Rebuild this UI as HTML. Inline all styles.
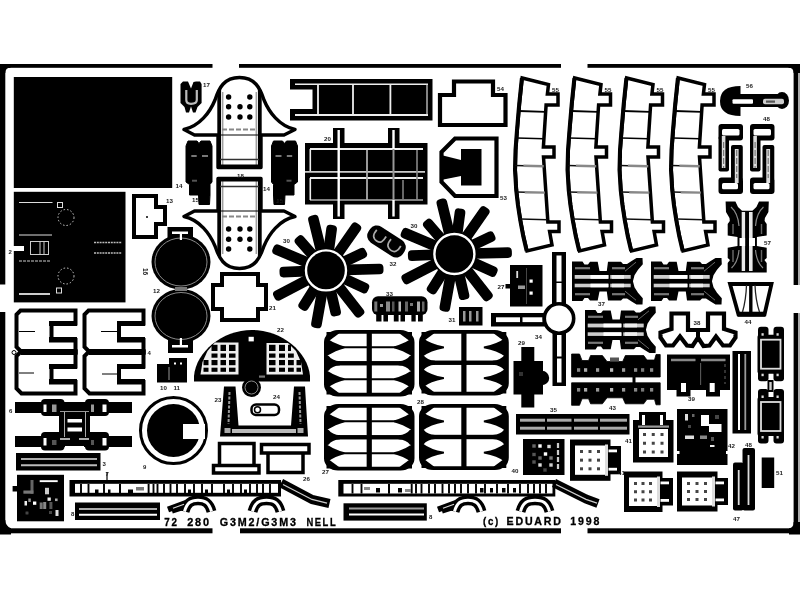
<!DOCTYPE html>
<html><head><meta charset="utf-8"><title>72 280 G3M2/G3M3 NELL</title>
<style>
html,body{margin:0;padding:0;background:#fff;}
body{width:800px;height:600px;overflow:hidden;}
svg{display:block;font-family:"Liberation Sans",sans-serif;}
</style></head><body>
<svg width="800" height="600" viewBox="0 0 800 600">
<defs><filter id="soft" filterUnits="userSpaceOnUse" x="-20" y="-20" width="840" height="640"><feGaussianBlur stdDeviation="0.55"/></filter></defs>
<rect x="-20" y="-20" width="840" height="640" fill="#fff"/>
<g filter="url(#soft)">
<rect x="-20" y="-20" width="840" height="640" fill="#fff"/>
<g id="frame">
<rect x="-10" y="64" width="222.5" height="3.8" fill="#000" />
<rect x="239" y="64" width="322" height="3.8" fill="#000" />
<rect x="587.5" y="64" width="222.5" height="3.8" fill="#000" />
<rect x="-10" y="528.3" width="222.5" height="5" fill="#000" />
<rect x="240" y="528.3" width="321" height="5" fill="#000" />
<rect x="587.5" y="528.3" width="222.5" height="5" fill="#000" />
<rect x="-10" y="66" width="15.3" height="218.5" fill="#000" />
<rect x="-10" y="312" width="15.3" height="222" fill="#000" />
<rect x="793.6" y="66" width="4.5" height="219" fill="#000" />
<rect x="798" y="66" width="12" height="219" fill="#aaa" />
<rect x="793.6" y="313" width="4.5" height="220" fill="#000" />
<rect x="798" y="313" width="12" height="220" fill="#aaa" />
<path d="M-10,64 L10.5,64 L10.5,67.8 Q5.3,67.8 5.3,73 L-10,73 Z" fill="#000" stroke="none" stroke-width="0" />
<path d="M-10,520 L5.3,520 Q5.5,526 11,528.3 L11,534.5 L-10,534.5 Z" fill="#000" stroke="none" stroke-width="0" />
<path d="M810,64 L788.5,64 L788.5,67.8 Q793.6,67.8 793.6,73 L810,73 Z" fill="#000" stroke="none" stroke-width="0" />
<path d="M810,534.6 L789,534.6 L789,528.3 Q793.6,528 793.6,522 L810,522 Z" fill="#000" stroke="none" stroke-width="0" />
</g>
<rect x="13.8" y="77" width="158.4" height="111" fill="#000" />
<g id="rect2">
<rect x="13.8" y="191.8" width="111.7" height="110.6" fill="#000" />
<line x1="19" y1="202.5" x2="52.5" y2="202.5" stroke="#ddd" stroke-width="1" />
<rect x="57.5" y="202.5" width="5" height="5" fill="#000" stroke="#ddd" stroke-width="1" />
<circle cx="66" cy="217.5" r="8" fill="none" stroke="#ccc" stroke-width="1" stroke-dasharray="1.5 2"/>
<line x1="19" y1="235" x2="52" y2="235" stroke="#ddd" stroke-width="1" />
<rect x="30.5" y="241.5" width="18" height="13" fill="none" stroke="#ccc" stroke-width="1" />
<line x1="40" y1="242" x2="40" y2="254" stroke="#ccc" stroke-width="1" />
<line x1="44" y1="242" x2="44" y2="254" stroke="#ccc" stroke-width="1" />
<rect x="11" y="246" width="13" height="5" fill="#fff" />
<line x1="19" y1="261" x2="50" y2="261" stroke="#ccc" stroke-width="1.2" stroke-dasharray="3 1"/>
<circle cx="66" cy="276" r="8" fill="none" stroke="#ccc" stroke-width="1" stroke-dasharray="1.5 2"/>
<rect x="56.5" y="288" width="5" height="5" fill="#000" stroke="#ddd" stroke-width="1" />
<line x1="19" y1="294" x2="50" y2="294" stroke="#ccc" stroke-width="2" />
<line x1="94" y1="242.5" x2="122" y2="242.5" stroke="#bbb" stroke-width="1.6" stroke-dasharray="2 0.8"/>
<line x1="94" y1="253" x2="122" y2="253" stroke="#bbb" stroke-width="1.6" stroke-dasharray="2 0.8"/>
</g>
<g id="cshapes">
<path d="M20.5,310.5 L75.5,310.5 L75.5,323.5 L51.5,323.5 L51.5,340.0 L75.5,340.0 L75.5,352.0 L21.5,352.0 L16.5,347.0 L16.5,314.5 Z" fill="#fff" stroke="#000" stroke-width="4" stroke-linejoin="miter" />
<path d="M88.5,310.5 L143.5,310.5 L143.5,323.5 L119.0,323.5 L119.0,340.0 L143.5,340.0 L143.5,352.0 L89.5,352.0 L84.5,347.0 L84.5,314.5 Z" fill="#fff" stroke="#000" stroke-width="4" stroke-linejoin="miter" />
<path d="M20.5,352.0 L75.5,352.0 L75.5,366.5 L51.5,366.5 L51.5,382.0 L75.5,382.0 L75.5,393.5 L21.5,393.5 L16.5,388.5 L16.5,356.0 Z" fill="#fff" stroke="#000" stroke-width="4" stroke-linejoin="miter" />
<path d="M88.5,352.0 L143.5,352.0 L143.5,366.5 L119.0,366.5 L119.0,382.0 L143.5,382.0 L143.5,393.5 L89.5,393.5 L84.5,388.5 L84.5,356.0 Z" fill="#fff" stroke="#000" stroke-width="4" stroke-linejoin="miter" />
<rect x="49" y="321" width="28" height="5" fill="#000" />
<rect x="49" y="337" width="28" height="5.5" fill="#000" />
<rect x="117" y="321" width="28" height="5" fill="#000" />
<rect x="117" y="337" width="28" height="5.5" fill="#000" />
<rect x="49" y="364" width="28" height="5" fill="#000" />
<rect x="49" y="379" width="28" height="5.5" fill="#000" />
<rect x="117" y="364" width="28" height="5" fill="#000" />
<rect x="117" y="379" width="28" height="5.5" fill="#000" />
<line x1="19" y1="331.5" x2="35" y2="331.5" stroke="#000" stroke-width="1" />
<line x1="101" y1="331.5" x2="117" y2="331.5" stroke="#000" stroke-width="1" />
<line x1="19" y1="373" x2="34" y2="373" stroke="#000" stroke-width="1" />
<line x1="102" y1="374" x2="117" y2="374" stroke="#000" stroke-width="1" />
<circle cx="14" cy="352.5" r="2" fill="#fff" stroke="#000" stroke-width="1" />
</g>
<rect x="21" y="349" width="56.5" height="6" fill="#000" />
<rect x="89" y="349" width="56.5" height="6" fill="#000" />
<g id="lattice">
<rect x="15" y="402" width="117" height="11" fill="#000" />
<rect x="41" y="399" width="23.5" height="17" fill="#000" rx="4" />
<rect x="85" y="399" width="24" height="17" fill="#000" rx="4" />
<rect x="15" y="436" width="117" height="11" fill="#000" />
<rect x="41" y="432" width="23.5" height="18.5" fill="#000" rx="4" />
<rect x="85" y="432" width="24" height="18.5" fill="#000" rx="4" />
<rect x="59" y="410" width="31" height="28" fill="#000" />
<rect x="43.5" y="404.5" width="3" height="7.5" fill="#fff" />
<rect x="52" y="404.5" width="4.5" height="7.5" fill="#999" />
<rect x="91" y="404.5" width="3" height="7.5" fill="#999" />
<rect x="102.5" y="404.5" width="4" height="7.5" fill="#fff" />
<rect x="43.5" y="438" width="3" height="7.5" fill="#fff" />
<rect x="52" y="440" width="4.5" height="5" fill="#555" />
<rect x="91" y="440" width="3" height="5" fill="#555" />
<rect x="102.5" y="438" width="4" height="7.5" fill="#fff" />
<rect x="67.5" y="419" width="14.5" height="3.5" fill="#fff" />
<rect x="67.5" y="427.5" width="14.5" height="4" fill="#fff" />
<line x1="64.5" y1="412" x2="64.5" y2="437" stroke="#aaa" stroke-width="1" />
<line x1="85.5" y1="412" x2="85.5" y2="437" stroke="#aaa" stroke-width="1" />
<line x1="60" y1="411.5" x2="89" y2="411.5" stroke="#999" stroke-width="1" />
<rect x="60" y="438" width="10" height="2" fill="#aaa" />
<rect x="79" y="438" width="10" height="2" fill="#aaa" />
<rect x="65" y="446" width="19" height="5" fill="#fff" />
</g>
<rect x="16" y="453" width="84.5" height="17.5" fill="#000" />
<line x1="21" y1="459" x2="97" y2="459" stroke="#aaa" stroke-width="2" />
<line x1="21" y1="465.3" x2="97" y2="465.3" stroke="#bbb" stroke-width="2" />
<rect x="75" y="502.5" width="85" height="17.5" fill="#000" />
<line x1="79" y1="509" x2="157" y2="509" stroke="#aaa" stroke-width="2" />
<line x1="79" y1="514.8" x2="157" y2="514.8" stroke="#fff" stroke-width="2" />
<g id="bigcircle">
<circle cx="173.5" cy="430.5" r="33" fill="#fff" stroke="#000" stroke-width="3" />
<circle cx="173.5" cy="430.5" r="26.5" fill="#000" />
<rect x="183" y="424" width="22" height="15" fill="#fff" />
</g>
<rect x="157" y="364" width="30" height="18.5" fill="#000" />
<rect x="169" y="358" width="18" height="8" fill="#000" />
<rect x="174" y="362.5" width="2" height="2" fill="#fff" />
<rect x="180" y="362.5" width="2" height="2" fill="#fff" />
<line x1="169" y1="367" x2="169" y2="380" stroke="#666" stroke-width="1.5" />
<g id="panel22">
<path d="M194,381.5 L194,376 C196,352 222,330 252,330 C282,330 308,352 310,376 L310,381.5 Z" fill="#000" stroke="none" stroke-width="0" />
</g>
<circle cx="251.5" cy="387.5" r="9.5" fill="#000" />
<circle cx="251.5" cy="387.5" r="6.5" fill="none" stroke="#888" stroke-width="1" />
<path d="M224.0,386.5 L235.5,386.5 L238.5,425.5 L291.0,425.5 L294.0,386.5 L305.0,386.5 L308.0,436.5 L220.0,436.5 Z" fill="#000" stroke="none" stroke-width="0" stroke-linejoin="miter" />
<line x1="229.5" y1="392" x2="228.5" y2="424" stroke="#999" stroke-width="2" stroke-dasharray="3 1.5"/>
<line x1="299.5" y1="392" x2="300.5" y2="424" stroke="#999" stroke-width="2" stroke-dasharray="3 1.5"/>
<rect x="232" y="429" width="64" height="4" fill="#bbb" />
<rect x="224.5" y="428" width="6" height="5" fill="#aaa" />
<rect x="297.5" y="428" width="6" height="5" fill="#aaa" />
<rect x="251.5" y="404.5" width="27.5" height="10.5" fill="#fff" stroke="#000" stroke-width="2.5" rx="4.5" />
<circle cx="257.5" cy="409.7" r="3" fill="#fff" stroke="#000" stroke-width="1.5" />
<g id="p2526">
<path d="M219.5,443.5 H254 V465.5 H259 V473 H213.5 V465.5 H219.5 Z M219.5,465.5 H254" fill="#fff" stroke="#000" stroke-width="3.5" />
<path d="M261.5,444.5 H309 V453 H303 V472.5 H268 V453 H261.5 Z M268,453 H303" fill="#fff" stroke="#000" stroke-width="3.5" />
</g>
<g id="longstripL">
<rect x="69.5" y="480" width="211.5" height="16.5" fill="#000" />
<rect x="75.0" y="483.8" width="203.0" height="9.0" fill="#fff" />
<line x1="81" y1="484" x2="81" y2="493.5" stroke="#000" stroke-width="1.9" />
<line x1="88.5" y1="484" x2="88.5" y2="493.5" stroke="#000" stroke-width="1.9" />
<line x1="104" y1="484" x2="104" y2="493.5" stroke="#000" stroke-width="1.9" />
<line x1="120" y1="484" x2="120" y2="493.5" stroke="#000" stroke-width="1.9" />
<line x1="148.6" y1="484" x2="148.6" y2="493.5" stroke="#000" stroke-width="1.9" />
<line x1="153.5" y1="484" x2="153.5" y2="493.5" stroke="#000" stroke-width="1.9" />
<line x1="157.5" y1="484" x2="157.5" y2="493.5" stroke="#000" stroke-width="1.9" />
<line x1="164" y1="484" x2="164" y2="493.5" stroke="#000" stroke-width="1.9" />
<line x1="170.5" y1="484" x2="170.5" y2="493.5" stroke="#000" stroke-width="1.9" />
<line x1="177" y1="484" x2="177" y2="493.5" stroke="#000" stroke-width="1.9" />
<line x1="185" y1="484" x2="185" y2="493.5" stroke="#000" stroke-width="1.9" />
<line x1="194" y1="484" x2="194" y2="493.5" stroke="#000" stroke-width="1.9" />
<line x1="202" y1="484" x2="202" y2="493.5" stroke="#000" stroke-width="1.9" />
<line x1="212" y1="484" x2="212" y2="493.5" stroke="#000" stroke-width="1.9" />
<line x1="224" y1="484" x2="224" y2="493.5" stroke="#000" stroke-width="1.9" />
<line x1="233" y1="484" x2="233" y2="493.5" stroke="#000" stroke-width="1.9" />
<line x1="241" y1="484" x2="241" y2="493.5" stroke="#000" stroke-width="1.9" />
<line x1="250" y1="484" x2="250" y2="493.5" stroke="#000" stroke-width="1.9" />
<line x1="257" y1="484" x2="257" y2="493.5" stroke="#000" stroke-width="1.9" />
<line x1="263" y1="484" x2="263" y2="493.5" stroke="#000" stroke-width="1.9" />
<line x1="270" y1="484" x2="270" y2="493.5" stroke="#000" stroke-width="1.9" />
<line x1="120" y1="484" x2="120" y2="493.5" stroke="#000" stroke-width="1.8" />
<rect x="95" y="489.5" width="3.5" height="4" fill="#000" />
<rect x="108" y="489.5" width="2.5" height="4" fill="#000" />
<rect x="128" y="489.5" width="5" height="4" fill="#000" />
<rect x="188" y="489.5" width="3" height="4" fill="#000" />
<rect x="205" y="489.5" width="3" height="4" fill="#000" />
<rect x="227" y="489.5" width="3" height="4" fill="#000" />
<rect x="244" y="489.5" width="3" height="4" fill="#000" />
<rect x="136" y="487" width="8" height="3.5" fill="#777" />
<line x1="107" y1="472" x2="107" y2="480" stroke="#000" stroke-width="1.2" />
</g>
<path d="M168,509.5 L187,502.5" fill="none" stroke="#000" stroke-width="6" />
<path d="M172,511.0 L186,506.5" fill="none" stroke="#000" stroke-width="5" />
<path d="M184.5,511.5 C187,502.5 191,500.3 198.0,500.3 C205,500.3 209,502.5 211.5,511.5" fill="none" stroke="#000" stroke-width="10" />
<path d="M184.5,511.5 C187,502.5 191,500.3 198.0,500.3 C205,500.3 209,502.5 211.5,511.5" fill="none" stroke="#fff" stroke-width="3" />
<path d="M173,508.3 L184,504.2" fill="none" stroke="#ddd" stroke-width="1.2" />
<path d="M252.5,511.5 C255,502.5 259,500.3 266.5,500.3 C274,500.3 278,502.5 280.5,511.5" fill="none" stroke="#000" stroke-width="10" />
<path d="M252.5,511.5 C255,502.5 259,500.3 266.5,500.3 C274,500.3 278,502.5 280.5,511.5" fill="none" stroke="#fff" stroke-width="3" />
<path d="M281,483 L312,499.5 L329.5,503.5" fill="none" stroke="#000" stroke-width="9" stroke-linejoin="round"/>
<path d="M283,484.5 L312,499.5 L327,503.2" fill="none" stroke="#ccc" stroke-width="1.3" />
<text x="164.3" y="525.7" font-size="10.5" font-weight="bold" letter-spacing="1.8" textLength="14.3" lengthAdjust="spacingAndGlyphs" fill="#000" stroke="#000" stroke-width="0.3">72</text>
<text x="187.2" y="525.7" font-size="10.5" font-weight="bold" letter-spacing="1.8" textLength="23.8" lengthAdjust="spacingAndGlyphs" fill="#000" stroke="#000" stroke-width="0.3">280</text>
<text x="219.7" y="525.7" font-size="10.5" font-weight="bold" letter-spacing="1.8" textLength="78.1" lengthAdjust="spacingAndGlyphs" fill="#000" stroke="#000" stroke-width="0.3">G3M2/G3M3</text>
<text x="306.4" y="525.7" font-size="10.5" font-weight="bold" letter-spacing="1.8" textLength="30.900000000000002" lengthAdjust="spacingAndGlyphs" fill="#000" stroke="#000" stroke-width="0.3">NELL</text>
<text x="483" y="525.3" font-size="10.5" font-weight="bold" letter-spacing="1.8" textLength="16.8" lengthAdjust="spacingAndGlyphs" fill="#000" stroke="#000" stroke-width="0.3">(c)</text>
<text x="506.5" y="525.3" font-size="10.5" font-weight="bold" letter-spacing="1.8" textLength="56.3" lengthAdjust="spacingAndGlyphs" fill="#000" stroke="#000" stroke-width="0.3">EDUARD</text>
<text x="570.3" y="525.3" font-size="10.5" font-weight="bold" letter-spacing="1.8" textLength="30.8" lengthAdjust="spacingAndGlyphs" fill="#000" stroke="#000" stroke-width="0.3">1998</text>
<g >
<path d="M184,129.5 C200,126 210,112 215,100 C219,88 224,77.5 239.5,77.5 C255,77.5 260,88 264,100 C269,112 279,126 295,129.5 L284,135 L261,135 L261,167.5 L218,167.5 L218,135 L194.5,135 Z" fill="#fff" stroke="#000" stroke-width="3.4" stroke-linejoin="round"/>
<line x1="219.2" y1="90" x2="219.2" y2="167" stroke="#000" stroke-width="3.8" />
<line x1="259.8" y1="90" x2="259.8" y2="167" stroke="#000" stroke-width="3.8" />
<line x1="222.8" y1="92" x2="222.8" y2="166" stroke="#777" stroke-width="1" />
<line x1="256.2" y1="92" x2="256.2" y2="166" stroke="#777" stroke-width="1" />
<line x1="222" y1="129.5" x2="257" y2="129.5" stroke="#888" stroke-width="2.2" stroke-dasharray="5 2"/>
<line x1="218" y1="135" x2="261" y2="135" stroke="#000" stroke-width="1" />
<line x1="220" y1="159.5" x2="259" y2="159.5" stroke="#333" stroke-width="1.6" />
<line x1="218" y1="166.5" x2="261" y2="166.5" stroke="#000" stroke-width="4" />
<circle cx="228.6" cy="97" r="2.7" fill="#000" />
<circle cx="249.8" cy="97" r="2.7" fill="#000" />
<circle cx="228.6" cy="106.7" r="2.7" fill="#000" />
<circle cx="240" cy="106.7" r="2.7" fill="#000" />
<circle cx="249.8" cy="106.7" r="2.7" fill="#000" />
<circle cx="228.6" cy="117" r="2.7" fill="#000" />
<circle cx="240" cy="117" r="2.7" fill="#000" />
<circle cx="249.8" cy="117" r="2.7" fill="#000" />
</g>
<g transform="translate(0,346) scale(1,-1)">
<path d="M184,129.5 C200,126 210,112 215,100 C219,88 224,77.5 239.5,77.5 C255,77.5 260,88 264,100 C269,112 279,126 295,129.5 L284,135 L261,135 L261,167.5 L218,167.5 L218,135 L194.5,135 Z" fill="#fff" stroke="#000" stroke-width="3.4" stroke-linejoin="round"/>
<line x1="219.2" y1="90" x2="219.2" y2="167" stroke="#000" stroke-width="3.8" />
<line x1="259.8" y1="90" x2="259.8" y2="167" stroke="#000" stroke-width="3.8" />
<line x1="222.8" y1="92" x2="222.8" y2="166" stroke="#777" stroke-width="1" />
<line x1="256.2" y1="92" x2="256.2" y2="166" stroke="#777" stroke-width="1" />
<line x1="222" y1="129.5" x2="257" y2="129.5" stroke="#888" stroke-width="2.2" stroke-dasharray="5 2"/>
<line x1="218" y1="135" x2="261" y2="135" stroke="#000" stroke-width="1" />
<line x1="220" y1="159.5" x2="259" y2="159.5" stroke="#333" stroke-width="1.6" />
<line x1="218" y1="166.5" x2="261" y2="166.5" stroke="#000" stroke-width="4" />
<circle cx="228.6" cy="97" r="2.7" fill="#000" />
<circle cx="249.8" cy="97" r="2.7" fill="#000" />
<circle cx="228.6" cy="106.7" r="2.7" fill="#000" />
<circle cx="240" cy="106.7" r="2.7" fill="#000" />
<circle cx="249.8" cy="106.7" r="2.7" fill="#000" />
<circle cx="228.6" cy="117" r="2.7" fill="#000" />
<circle cx="240" cy="117" r="2.7" fill="#000" />
<circle cx="249.8" cy="117" r="2.7" fill="#000" />
</g>
<path d="M180.5,84.0 L183.0,81.5 L188.0,81.5 L191.0,88.5 L193.5,82.0 L196.0,81.5 L200.0,81.5 L201.6,84.0 L201.6,103.0 L197.5,107.0 L195.5,112.6 L193.0,112.6 L191.0,106.5 L189.0,112.6 L186.0,112.6 L184.5,107.0 L180.5,103.0 Z" fill="#000" stroke="none" stroke-width="0" stroke-linejoin="miter" />
<path d="M186.3,90 L186.3,100 Q186.3,103.8 191,103.8 Q196.8,103.8 196.8,100 L196.8,90" fill="none" stroke="#bbb" stroke-width="2.2" />
<path d="M186.0,146.0 L188.0,141.0 L197.0,141.0 L199.0,143.5 L201.0,141.0 L210.0,141.0 L212.0,146.0 L212.0,182.0 L210.0,184.5 L210.0,195.0 L209.5,204.5 L199.0,204.5 L198.5,195.0 L189.5,195.0 L189.5,184.5 L186.0,182.0 Z" fill="#000" stroke="#000" stroke-width="1" stroke-linejoin="miter" stroke-linejoin="round"/>
<path d="M297.5,146.0 L295.5,141.0 L286.5,141.0 L284.5,143.5 L282.5,141.0 L273.5,141.0 L271.5,146.0 L271.5,182.0 L273.5,184.5 L273.5,195.0 L274.0,204.5 L284.5,204.5 L285.0,195.0 L294.0,195.0 L294.0,184.5 L297.5,182.0 Z" fill="#000" stroke="#000" stroke-width="1" stroke-linejoin="miter" stroke-linejoin="round"/>
<line x1="191.3" y1="156" x2="196.7" y2="156" stroke="#777" stroke-width="2" />
<line x1="292.2" y1="156" x2="286.8" y2="156" stroke="#777" stroke-width="2" />
<line x1="202" y1="156" x2="208" y2="156" stroke="#777" stroke-width="2" />
<line x1="281.5" y1="156" x2="275.5" y2="156" stroke="#777" stroke-width="2" />
<line x1="192" y1="180.7" x2="197" y2="180.7" stroke="#555" stroke-width="2" />
<line x1="291.5" y1="180.7" x2="286.5" y2="180.7" stroke="#555" stroke-width="2" />
<path d="M134.0,196.0 L156.0,196.0 L156.0,207.0 L165.0,207.0 L165.0,224.0 L156.0,224.0 L156.0,237.0 L134.0,237.0 Z" fill="#fff" stroke="#000" stroke-width="4" stroke-linejoin="miter" />
<circle cx="147" cy="217" r="1" fill="#000" />
<g id="circles">
<rect x="167.5" y="227" width="25.5" height="12" fill="#000" />
<rect x="168" y="338" width="25" height="15" fill="#000" />
<ellipse cx="181" cy="262" rx="29.5" ry="27.5" fill="#000"/>
<ellipse cx="181" cy="316" rx="29.5" ry="27" fill="#000"/>
<ellipse cx="181" cy="262" rx="26" ry="24" fill="none" stroke="#999" stroke-width="0.9"/>
<ellipse cx="181" cy="316" rx="26" ry="23.5" fill="none" stroke="#999" stroke-width="0.9"/>
<rect x="172" y="231.5" width="16" height="2.5" fill="#fff" />
<rect x="179.8" y="233" width="2.2" height="7" fill="#fff" />
<rect x="172" y="345" width="16" height="2.5" fill="#fff" />
<rect x="179.8" y="338" width="2.2" height="8" fill="#fff" />
<rect x="175" y="287" width="12" height="4" fill="#777" />
</g>
<path d="M222.0,274.0 L258.0,274.0 L258.0,285.0 L266.0,285.0 L266.0,309.0 L258.0,309.0 L258.0,320.0 L222.0,320.0 L222.0,309.0 L213.0,309.0 L213.0,285.0 L222.0,285.0 Z" fill="#fff" stroke="#000" stroke-width="4" stroke-linejoin="miter" />
<g id="p19">
<rect x="290" y="79" width="142.5" height="41.5" fill="#000" />
<rect x="288" y="89.5" width="24.5" height="19.5" fill="#fff" />
<line x1="295" y1="84.3" x2="428" y2="84.3" stroke="#eee" stroke-width="1.6" />
<line x1="295" y1="115" x2="428" y2="115" stroke="#eee" stroke-width="1.8" />
<line x1="318" y1="84" x2="318" y2="115" stroke="#eee" stroke-width="1.8" />
<line x1="353" y1="84" x2="353" y2="115" stroke="#eee" stroke-width="1.8" />
<line x1="390.4" y1="84" x2="390.4" y2="115" stroke="#eee" stroke-width="1.8" />
<line x1="427" y1="84" x2="427" y2="115" stroke="#ddd" stroke-width="1.2" />
</g>
<g id="p20">
<rect x="305" y="143" width="122.5" height="61.5" fill="#000" />
<rect x="333" y="128" width="11.5" height="91" fill="#000" />
<rect x="388" y="128" width="11.5" height="91" fill="#000" />
<line x1="310" y1="149" x2="423" y2="149" stroke="#eee" stroke-width="2.2" />
<line x1="305" y1="171.8" x2="425" y2="171.8" stroke="#ccc" stroke-width="1.8" />
<line x1="310" y1="178" x2="423" y2="178" stroke="#eee" stroke-width="2.2" />
<line x1="310" y1="200" x2="423" y2="200" stroke="#aaa" stroke-width="1.6" />
<line x1="310.3" y1="149" x2="310.3" y2="171" stroke="#eee" stroke-width="1.6" />
<line x1="310.3" y1="178" x2="310.3" y2="200" stroke="#eee" stroke-width="1.6" />
<line x1="338.7" y1="130" x2="338.7" y2="216.5" stroke="#fff" stroke-width="2.4" />
<line x1="393.5" y1="130" x2="393.5" y2="149" stroke="#fff" stroke-width="2.4" />
<line x1="393.5" y1="149" x2="393.5" y2="200" stroke="#999" stroke-width="2" />
<line x1="393.5" y1="200" x2="393.5" y2="216.5" stroke="#fff" stroke-width="2.4" />
<line x1="367" y1="150" x2="367" y2="200" stroke="#aaa" stroke-width="1.8" />
<line x1="417" y1="150" x2="417" y2="200" stroke="#888" stroke-width="1.6" />
<line x1="403" y1="180" x2="403" y2="199" stroke="#888" stroke-width="1.5" />
</g>
<path d="M454.0,81.5 L493.0,81.5 L493.0,95.0 L505.5,95.0 L505.5,125.0 L440.0,125.0 L440.0,95.0 L454.0,95.0 Z" fill="#fff" stroke="#000" stroke-width="4.2" stroke-linejoin="miter" />
<path d="M455.0,138.5 L496.5,138.5 L496.5,196.0 L455.0,196.0 L441.5,182.0 L441.5,152.0 Z" fill="#fff" stroke="#000" stroke-width="4.2" stroke-linejoin="miter" />
<path d="M441.0,155.0 L461.0,160.0 L461.0,176.0 L441.0,180.0 Z" fill="#000" stroke="none" stroke-width="0" stroke-linejoin="miter" />
<rect x="461" y="149" width="20.5" height="36.5" fill="#000" />
<g transform="translate(0,0)">
<path d="M522.2,78.0 L548.5,84.5 L547.4,94.0 L558.0,94.0 L558.0,105.0 L546.1,105.0 L543.4,147.0 L554.0,147.0 L554.0,157.0 L543.5,157.0 L547.9,222.0 L559.0,222.0 L559.0,231.5 L549.6,231.5 L552.0,245.0 L527.0,251.0 L523.5,236.0 L520.5,220.0 L518.2,205.0 L516.5,190.0 L515.3,170.0 L515.8,150.0 L517.3,130.0 L519.5,104.0 L522.2,78.0 Z" fill="#fff" stroke="#000" stroke-width="3.5" stroke-linejoin="miter" />
<path d="M521.9000000000001,78 L519.2,104 L517.0,130 L515.5,150 L515.0,170 L516.2,190 L517.9000000000001,205 L520.2,220 L523.2,236 L526.7,251" fill="none" stroke="#000" stroke-width="4" />
<line x1="518.9" y1="111" x2="545.4" y2="111.8" stroke="#000" stroke-width="1.8" />
<line x1="516.7" y1="138" x2="543.7" y2="138.8" stroke="#000" stroke-width="1.5" />
<line x1="520.3" y1="219" x2="547.4" y2="219.8" stroke="#111" stroke-width="1.5" />
<line x1="515.4" y1="165.6" x2="524.4" y2="165.79999999999998" stroke="#111" stroke-width="1.5" />
<line x1="523.4" y1="165.79999999999998" x2="543.7" y2="166.2" stroke="#888" stroke-width="2.4" />
<line x1="516.7" y1="192" x2="525.7" y2="192.2" stroke="#111" stroke-width="1.5" />
<line x1="524.7" y1="192.2" x2="544.9" y2="192.6" stroke="#888" stroke-width="2.4" />
</g>
<g transform="translate(52.5,0)">
<path d="M522.2,78.0 L548.5,84.5 L547.4,94.0 L558.0,94.0 L558.0,105.0 L546.1,105.0 L543.4,147.0 L554.0,147.0 L554.0,157.0 L543.5,157.0 L547.9,222.0 L559.0,222.0 L559.0,231.5 L549.6,231.5 L552.0,245.0 L527.0,251.0 L523.5,236.0 L520.5,220.0 L518.2,205.0 L516.5,190.0 L515.3,170.0 L515.8,150.0 L517.3,130.0 L519.5,104.0 L522.2,78.0 Z" fill="#fff" stroke="#000" stroke-width="3.5" stroke-linejoin="miter" />
<path d="M521.9000000000001,78 L519.2,104 L517.0,130 L515.5,150 L515.0,170 L516.2,190 L517.9000000000001,205 L520.2,220 L523.2,236 L526.7,251" fill="none" stroke="#000" stroke-width="4" />
<line x1="518.9" y1="111" x2="545.4" y2="111.8" stroke="#000" stroke-width="1.8" />
<line x1="516.7" y1="138" x2="543.7" y2="138.8" stroke="#000" stroke-width="1.5" />
<line x1="520.3" y1="219" x2="547.4" y2="219.8" stroke="#111" stroke-width="1.5" />
<line x1="515.4" y1="165.6" x2="524.4" y2="165.79999999999998" stroke="#111" stroke-width="1.5" />
<line x1="523.4" y1="165.79999999999998" x2="543.7" y2="166.2" stroke="#888" stroke-width="2.4" />
<line x1="516.7" y1="192" x2="525.7" y2="192.2" stroke="#111" stroke-width="1.5" />
<line x1="524.7" y1="192.2" x2="544.9" y2="192.6" stroke="#888" stroke-width="2.4" />
</g>
<g transform="translate(104.5,0)">
<path d="M522.2,78.0 L548.5,84.5 L547.4,94.0 L558.0,94.0 L558.0,105.0 L546.1,105.0 L543.4,147.0 L554.0,147.0 L554.0,157.0 L543.5,157.0 L547.9,222.0 L559.0,222.0 L559.0,231.5 L549.6,231.5 L552.0,245.0 L527.0,251.0 L523.5,236.0 L520.5,220.0 L518.2,205.0 L516.5,190.0 L515.3,170.0 L515.8,150.0 L517.3,130.0 L519.5,104.0 L522.2,78.0 Z" fill="#fff" stroke="#000" stroke-width="3.5" stroke-linejoin="miter" />
<path d="M521.9000000000001,78 L519.2,104 L517.0,130 L515.5,150 L515.0,170 L516.2,190 L517.9000000000001,205 L520.2,220 L523.2,236 L526.7,251" fill="none" stroke="#000" stroke-width="4" />
<line x1="518.9" y1="111" x2="545.4" y2="111.8" stroke="#000" stroke-width="1.8" />
<line x1="516.7" y1="138" x2="543.7" y2="138.8" stroke="#000" stroke-width="1.5" />
<line x1="520.3" y1="219" x2="547.4" y2="219.8" stroke="#111" stroke-width="1.5" />
<line x1="515.4" y1="165.6" x2="524.4" y2="165.79999999999998" stroke="#111" stroke-width="1.5" />
<line x1="523.4" y1="165.79999999999998" x2="543.7" y2="166.2" stroke="#888" stroke-width="2.4" />
<line x1="516.7" y1="192" x2="525.7" y2="192.2" stroke="#111" stroke-width="1.5" />
<line x1="524.7" y1="192.2" x2="544.9" y2="192.6" stroke="#888" stroke-width="2.4" />
</g>
<g transform="translate(156,0)">
<path d="M522.2,78.0 L548.5,84.5 L547.4,94.0 L558.0,94.0 L558.0,105.0 L546.1,105.0 L543.4,147.0 L554.0,147.0 L554.0,157.0 L543.5,157.0 L547.9,222.0 L559.0,222.0 L559.0,231.5 L549.6,231.5 L552.0,245.0 L527.0,251.0 L523.5,236.0 L520.5,220.0 L518.2,205.0 L516.5,190.0 L515.3,170.0 L515.8,150.0 L517.3,130.0 L519.5,104.0 L522.2,78.0 Z" fill="#fff" stroke="#000" stroke-width="3.5" stroke-linejoin="miter" />
<path d="M521.9000000000001,78 L519.2,104 L517.0,130 L515.5,150 L515.0,170 L516.2,190 L517.9000000000001,205 L520.2,220 L523.2,236 L526.7,251" fill="none" stroke="#000" stroke-width="4" />
<line x1="518.9" y1="111" x2="545.4" y2="111.8" stroke="#000" stroke-width="1.8" />
<line x1="516.7" y1="138" x2="543.7" y2="138.8" stroke="#000" stroke-width="1.5" />
<line x1="520.3" y1="219" x2="547.4" y2="219.8" stroke="#111" stroke-width="1.5" />
<line x1="515.4" y1="165.6" x2="524.4" y2="165.79999999999998" stroke="#111" stroke-width="1.5" />
<line x1="523.4" y1="165.79999999999998" x2="543.7" y2="166.2" stroke="#888" stroke-width="2.4" />
<line x1="516.7" y1="192" x2="525.7" y2="192.2" stroke="#111" stroke-width="1.5" />
<line x1="524.7" y1="192.2" x2="544.9" y2="192.6" stroke="#888" stroke-width="2.4" />
</g>
<g id="p56">
<path d="M740.5,86 L740.5,116 Q720,116 720,101 Q720,86 740.5,86 Z" fill="#000" stroke="none" stroke-width="0" />
<rect x="738" y="94" width="44" height="13" fill="#000" />
<ellipse cx="782" cy="100.5" rx="7" ry="8.5" fill="#000"/>
<rect x="732.5" y="99.3" width="20.5" height="4.5" fill="#fff" rx="1" />
<rect x="763" y="98.8" width="21" height="5.4" fill="#ccc" rx="2" />
<rect x="766" y="100.5" width="9" height="2.2" fill="#555" />
</g>
<g transform="translate(0,0)">
<rect x="718.5" y="124" width="24.5" height="16.5" fill="#000" rx="3" />
<rect x="718.5" y="136" width="10.5" height="35.5" fill="#000" rx="2" />
<rect x="731" y="145" width="11.8" height="35.5" fill="#000" rx="2" />
<rect x="718.5" y="177.5" width="24.5" height="16.5" fill="#000" rx="3" />
<rect x="722" y="129" width="17.5" height="6.5" fill="#fff" rx="1.5" />
<rect x="722" y="183" width="16" height="6.2" fill="#fff" rx="1.5" />
<rect x="721.8" y="136" width="3.6" height="32" fill="#ddd" />
<rect x="734.8" y="149" width="3.8" height="34" fill="#ddd" />
<line x1="723.6" y1="142" x2="723.6" y2="168" stroke="#777" stroke-width="1.2" stroke-dasharray="6 2"/>
<line x1="736.7" y1="150" x2="736.7" y2="178" stroke="#777" stroke-width="1.2" stroke-dasharray="6 2"/>
</g>
<g transform="translate(31.5,0)">
<rect x="718.5" y="124" width="24.5" height="16.5" fill="#000" rx="3" />
<rect x="718.5" y="136" width="10.5" height="35.5" fill="#000" rx="2" />
<rect x="731" y="145" width="11.8" height="35.5" fill="#000" rx="2" />
<rect x="718.5" y="177.5" width="24.5" height="16.5" fill="#000" rx="3" />
<rect x="722" y="129" width="17.5" height="6.5" fill="#fff" rx="1.5" />
<rect x="722" y="183" width="16" height="6.2" fill="#fff" rx="1.5" />
<rect x="721.8" y="136" width="3.6" height="32" fill="#ddd" />
<rect x="734.8" y="149" width="3.8" height="34" fill="#ddd" />
<line x1="723.6" y1="142" x2="723.6" y2="168" stroke="#777" stroke-width="1.2" stroke-dasharray="6 2"/>
<line x1="736.7" y1="150" x2="736.7" y2="178" stroke="#777" stroke-width="1.2" stroke-dasharray="6 2"/>
</g>
<g id="p57">
<path d="M747.2,210.7 L742.0,210.7 L738.0,207.0 L735.4,201.6 L725.6,201.6 L726.0,212.0 L729.5,218.0 L729.8,221.0 L727.7,224.0 L727.7,235.5 L737.5,237.0 L737.5,246.0 L727.7,247.8 L727.7,258.0 L730.0,260.0 L727.7,263.0 L727.7,272.5 L747.2,272.5 L747.2,272.5 L766.7,272.5 L766.7,263.0 L764.4,260.0 L766.7,258.0 L766.7,247.8 L756.9,246.0 L756.9,237.0 L766.7,235.5 L766.7,224.0 L764.6,221.0 L764.9,218.0 L768.4,212.0 L768.8,201.6 L759.0,201.6 L756.4,207.0 L752.4,210.7 L747.2,210.7 Z" fill="#000" stroke="none" stroke-width="0" stroke-linejoin="miter" />
<rect x="741.7" y="212" width="3.4" height="59" fill="#e8e8e8" />
<rect x="749" y="212" width="3.6" height="59" fill="#e8e8e8" />
<rect x="739.5" y="238" width="5.6" height="8" fill="#fff" />
<rect x="749" y="238" width="6" height="8" fill="#fff" />
<path d="M731,207 Q738,213 739,226 M763.5,207 Q756.5,213 755.5,226 M731.5,268 Q738,262 739,250 M763,268 Q756.5,262 755.5,250" fill="none" stroke="#888" stroke-width="1.2" />
<line x1="733" y1="224" x2="733" y2="234" stroke="#666" stroke-width="1.5" />
<line x1="761.5" y1="224" x2="761.5" y2="234" stroke="#666" stroke-width="1.5" />
<line x1="733" y1="250" x2="733" y2="262" stroke="#666" stroke-width="1.5" />
<line x1="761.5" y1="250" x2="761.5" y2="262" stroke="#666" stroke-width="1.5" />
</g>
<path d="M730.0,284.0 L771.5,284.0 L764.5,314.5 L738.5,314.5 Z" fill="#fff" stroke="#000" stroke-width="3.8" stroke-linejoin="miter" />
<line x1="738" y1="314.2" x2="765" y2="314.2" stroke="#000" stroke-width="5" />
<line x1="750.8" y1="285" x2="750.8" y2="313" stroke="#000" stroke-width="3.4" />
<path d="M746.5,285 Q746,300 742.5,312 M755,285 Q755.5,300 759.5,312" fill="none" stroke="#222" stroke-width="1.3" />
<g transform="translate(326,270.4)">
<rect x="16" y="-5.35" width="40.7" height="10.7" rx="4" transform="rotate(-103.8)" fill="#000"/>
<rect x="16" y="-5.35" width="29.8" height="10.7" rx="4" transform="rotate(-82.3)" fill="#000"/>
<rect x="16" y="-5.35" width="40.5" height="10.7" rx="4" transform="rotate(-55.1)" fill="#000"/>
<rect x="16" y="-5.35" width="28.4" height="10.7" rx="4" transform="rotate(-25.4)" fill="#000"/>
<rect x="16" y="-5.35" width="41.5" height="10.7" rx="4" transform="rotate(-1.5)" fill="#000"/>
<rect x="16" y="-5.35" width="30.5" height="10.7" rx="4" transform="rotate(24.5)" fill="#000"/>
<rect x="16" y="-5.35" width="41.8" height="10.7" rx="4" transform="rotate(51.9)" fill="#000"/>
<rect x="16" y="-5.35" width="30.8" height="10.7" rx="4" transform="rotate(77.0)" fill="#000"/>
<rect x="16" y="-5.35" width="42.4" height="10.7" rx="4" transform="rotate(100.1)" fill="#000"/>
<rect x="16" y="-5.35" width="30.1" height="10.7" rx="4" transform="rotate(122.2)" fill="#000"/>
<rect x="16" y="-5.35" width="42.4" height="10.7" rx="4" transform="rotate(152.6)" fill="#000"/>
<rect x="16" y="-5.35" width="30.5" height="10.7" rx="4" transform="rotate(177.8)" fill="#000"/>
<rect x="16" y="-5.35" width="41.4" height="10.7" rx="4" transform="rotate(-157.1)" fill="#000"/>
<rect x="16" y="-5.35" width="28.1" height="10.7" rx="4" transform="rotate(-131.0)" fill="#000"/>
<circle cx="0" cy="0" r="23" fill="#000" />
<circle cx="0" cy="0" r="20" fill="none" stroke="#fff" stroke-width="2.4" />
</g>
<g transform="translate(454.4,254)">
<rect x="16" y="-5.35" width="40.7" height="10.7" rx="4" transform="rotate(-103.8)" fill="#000"/>
<rect x="16" y="-5.35" width="29.8" height="10.7" rx="4" transform="rotate(-82.3)" fill="#000"/>
<rect x="16" y="-5.35" width="40.5" height="10.7" rx="4" transform="rotate(-55.1)" fill="#000"/>
<rect x="16" y="-5.35" width="28.4" height="10.7" rx="4" transform="rotate(-25.4)" fill="#000"/>
<rect x="16" y="-5.35" width="41.5" height="10.7" rx="4" transform="rotate(-1.5)" fill="#000"/>
<rect x="16" y="-5.35" width="30.5" height="10.7" rx="4" transform="rotate(24.5)" fill="#000"/>
<rect x="16" y="-5.35" width="41.8" height="10.7" rx="4" transform="rotate(51.9)" fill="#000"/>
<rect x="16" y="-5.35" width="30.8" height="10.7" rx="4" transform="rotate(77.0)" fill="#000"/>
<rect x="16" y="-5.35" width="42.4" height="10.7" rx="4" transform="rotate(100.1)" fill="#000"/>
<rect x="16" y="-5.35" width="30.1" height="10.7" rx="4" transform="rotate(122.2)" fill="#000"/>
<rect x="16" y="-5.35" width="42.4" height="10.7" rx="4" transform="rotate(152.6)" fill="#000"/>
<rect x="16" y="-5.35" width="30.5" height="10.7" rx="4" transform="rotate(177.8)" fill="#000"/>
<rect x="16" y="-5.35" width="41.4" height="10.7" rx="4" transform="rotate(-157.1)" fill="#000"/>
<rect x="16" y="-5.35" width="28.1" height="10.7" rx="4" transform="rotate(-131.0)" fill="#000"/>
<circle cx="0" cy="0" r="23" fill="#000" />
<circle cx="0" cy="0" r="20" fill="none" stroke="#fff" stroke-width="2.4" />
</g>
<g transform="translate(386.5,241.5) rotate(33)">
<rect x="-20.5" y="-9.5" width="41" height="19" fill="#000" rx="8" />
<path d="M-14.5,-4.5 Q-16,5 -8,5 Q-2.5,5 -3,-4 M2.5,-4.5 Q1,5 9,5 Q15,5 14.5,-4" fill="none" stroke="#aaa" stroke-width="1.7" />
</g>
<g id="p33">
<rect x="372" y="296.3" width="55.5" height="18.8" fill="#000" rx="6" />
<rect x="376.2" y="312" width="5.300000000000011" height="9.5" fill="#000" />
<rect x="383.4" y="312" width="4.600000000000023" height="9.5" fill="#000" />
<rect x="393.8" y="312" width="4.800000000000011" height="9.5" fill="#000" />
<rect x="400.5" y="312" width="4.5" height="9.5" fill="#000" />
<rect x="411.4" y="312" width="4.300000000000011" height="9.5" fill="#000" />
<rect x="418" y="312" width="4.800000000000011" height="9.5" fill="#000" />
<rect x="374.3" y="301.5" width="3" height="10" fill="#777" />
<rect x="386" y="301.5" width="4" height="10" fill="#888" />
<rect x="392" y="301.5" width="2.5" height="10" fill="#555" />
<rect x="398.5" y="301.5" width="2.5" height="10" fill="#bbb" />
<rect x="405" y="301.5" width="3" height="10" fill="#666" />
<rect x="417" y="301.5" width="3" height="10" fill="#aaa" />
<rect x="422" y="301.5" width="2.5" height="10" fill="#666" />
<rect x="380" y="304" width="3" height="3" fill="#999" />
<rect x="410" y="303" width="3" height="3" fill="#777" />
</g>
<rect x="459" y="307" width="23.5" height="18.5" fill="#000" />
<rect x="463" y="311" width="2.5" height="10.5" fill="#999" />
<rect x="469" y="311" width="2.5" height="10.5" fill="#999" />
<rect x="476" y="311" width="2.5" height="10.5" fill="#999" />
<rect x="510" y="265" width="32.5" height="41.5" fill="#000" />
<rect x="505.5" y="284" width="6" height="4.5" fill="#000" />
<rect x="516.3" y="271" width="1.8" height="7" fill="#ddd" />
<rect x="518" y="285.5" width="7" height="3.5" fill="#999" />
<rect x="529.5" y="279.5" width="3.2" height="3.2" fill="#fff" />
<rect x="529.5" y="291.5" width="3.2" height="3.2" fill="#fff" />
<line x1="526.5" y1="268" x2="526.5" y2="304" stroke="#444" stroke-width="1" />
<g id="p34">
<rect x="552" y="252" width="14" height="54" fill="#000" />
<rect x="552.5" y="332" width="13.5" height="54" fill="#000" />
<rect x="491" y="313" width="56" height="13.5" fill="#000" />
<rect x="556.5" y="255.5" width="5" height="26" fill="#fff" />
<rect x="556.5" y="283" width="5" height="22" fill="#fff" />
<rect x="557" y="335" width="4.5" height="21.5" fill="#fff" />
<rect x="557" y="358.5" width="4.5" height="24" fill="#fff" />
<rect x="496" y="317.3" width="24" height="4.8" fill="#fff" />
<rect x="522.5" y="317.3" width="20" height="4.8" fill="#fff" />
<circle cx="559" cy="318.5" r="14.7" fill="#fff" stroke="#000" stroke-width="3.6" />
</g>
<path d="M572.0,280.9 L572.0,261.5 L582.5,261.5 L584.5,264.5 L588.0,264.5 L590.0,261.8 L597.7,261.8 L599.5,271.0 L606.8,271.0 L608.0,261.8 L621.0,261.8 L623.0,264.0 L627.0,264.0 L632.0,260.7 L636.5,258.0 L642.5,258.0 L642.8,264.2 L638.0,269.7 L634.5,275.2 L633.0,280.9 L633.0,281.5 L634.5,287.2 L638.0,292.7 L642.8,298.2 L642.5,304.4 L636.5,304.4 L632.0,301.7 L627.0,298.4 L623.0,298.4 L621.0,300.6 L608.0,300.6 L606.8,291.4 L599.5,291.4 L597.7,300.6 L590.0,300.6 L588.0,297.9 L584.5,297.9 L582.5,300.9 L572.0,300.9 L572.0,281.5 Z" fill="#000" stroke="none" stroke-width="0" stroke-linejoin="miter" />
<rect x="574.7" y="275.0" width="56" height="3.8" fill="#ccc" />
<rect x="574.7" y="283.7" width="56" height="3.6" fill="#ccc" />
<rect x="590.5" y="275.0" width="17.5" height="3.8" fill="#fff" />
<rect x="590.5" y="283.7" width="17.5" height="3.6" fill="#fff" />
<rect x="612" y="275.0" width="12" height="3.8" fill="#eee" />
<rect x="612" y="283.7" width="12" height="3.6" fill="#eee" />
<line x1="609.5" y1="273.2" x2="609.5" y2="289.2" stroke="#000" stroke-width="1.5" />
<line x1="575" y1="268.2" x2="590" y2="268.2" stroke="#777" stroke-width="2.2" />
<line x1="612" y1="268.2" x2="625" y2="268.2" stroke="#777" stroke-width="2.2" />
<path d="M625,271.2 L636,262.2" fill="none" stroke="#666" stroke-width="1" />
<line x1="575" y1="294.2" x2="590" y2="294.2" stroke="#777" stroke-width="2.2" />
<line x1="612" y1="294.2" x2="625" y2="294.2" stroke="#777" stroke-width="2.2" />
<path d="M625,291.2 L636,300.2" fill="none" stroke="#666" stroke-width="1" />
<path d="M651.0,280.9 L651.0,261.5 L661.5,261.5 L663.5,264.5 L667.0,264.5 L669.0,261.8 L676.7,261.8 L678.5,271.0 L685.8,271.0 L687.0,261.8 L700.0,261.8 L702.0,264.0 L706.0,264.0 L711.0,260.7 L715.5,258.0 L721.5,258.0 L721.8,264.2 L717.0,269.7 L713.5,275.2 L712.0,280.9 L712.0,281.5 L713.5,287.2 L717.0,292.7 L721.8,298.2 L721.5,304.4 L715.5,304.4 L711.0,301.7 L706.0,298.4 L702.0,298.4 L700.0,300.6 L687.0,300.6 L685.8,291.4 L678.5,291.4 L676.7,300.6 L669.0,300.6 L667.0,297.9 L663.5,297.9 L661.5,300.9 L651.0,300.9 L651.0,281.5 Z" fill="#000" stroke="none" stroke-width="0" stroke-linejoin="miter" />
<rect x="653.7" y="275.0" width="56" height="3.8" fill="#ccc" />
<rect x="653.7" y="283.7" width="56" height="3.6" fill="#ccc" />
<rect x="669.5" y="275.0" width="17.5" height="3.8" fill="#fff" />
<rect x="669.5" y="283.7" width="17.5" height="3.6" fill="#fff" />
<rect x="691" y="275.0" width="12" height="3.8" fill="#eee" />
<rect x="691" y="283.7" width="12" height="3.6" fill="#eee" />
<line x1="688.5" y1="273.2" x2="688.5" y2="289.2" stroke="#000" stroke-width="1.5" />
<line x1="654" y1="268.2" x2="669" y2="268.2" stroke="#777" stroke-width="2.2" />
<line x1="691" y1="268.2" x2="704" y2="268.2" stroke="#777" stroke-width="2.2" />
<path d="M704,271.2 L715,262.2" fill="none" stroke="#666" stroke-width="1" />
<line x1="654" y1="294.2" x2="669" y2="294.2" stroke="#777" stroke-width="2.2" />
<line x1="691" y1="294.2" x2="704" y2="294.2" stroke="#777" stroke-width="2.2" />
<path d="M704,291.2 L715,300.2" fill="none" stroke="#666" stroke-width="1" />
<path d="M585.0,329.5 L585.0,310.1 L595.5,310.1 L597.5,313.1 L601.0,313.1 L603.0,310.4 L610.7,310.4 L612.5,319.6 L619.8,319.6 L621.0,310.4 L634.0,310.4 L636.0,312.6 L640.0,312.6 L645.0,309.3 L649.5,306.6 L655.5,306.6 L655.8,312.8 L651.0,318.3 L647.5,323.8 L646.0,329.5 L646.0,330.1 L647.5,335.8 L651.0,341.3 L655.8,346.8 L655.5,353.0 L649.5,353.0 L645.0,350.3 L640.0,347.0 L636.0,347.0 L634.0,349.2 L621.0,349.2 L619.8,340.0 L612.5,340.0 L610.7,349.2 L603.0,349.2 L601.0,346.5 L597.5,346.5 L595.5,349.5 L585.0,349.5 L585.0,330.1 Z" fill="#000" stroke="none" stroke-width="0" stroke-linejoin="miter" />
<rect x="587.7" y="323.6" width="56" height="3.8" fill="#ccc" />
<rect x="587.7" y="332.3" width="56" height="3.6" fill="#ccc" />
<rect x="603.5" y="323.6" width="17.5" height="3.8" fill="#fff" />
<rect x="603.5" y="332.3" width="17.5" height="3.6" fill="#fff" />
<rect x="625" y="323.6" width="12" height="3.8" fill="#eee" />
<rect x="625" y="332.3" width="12" height="3.6" fill="#eee" />
<line x1="622.5" y1="321.8" x2="622.5" y2="337.8" stroke="#000" stroke-width="1.5" />
<line x1="588" y1="316.8" x2="603" y2="316.8" stroke="#777" stroke-width="2.2" />
<line x1="625" y1="316.8" x2="638" y2="316.8" stroke="#777" stroke-width="2.2" />
<path d="M638,319.8 L649,310.8" fill="none" stroke="#666" stroke-width="1" />
<line x1="588" y1="342.8" x2="603" y2="342.8" stroke="#777" stroke-width="2.2" />
<line x1="625" y1="342.8" x2="638" y2="342.8" stroke="#777" stroke-width="2.2" />
<path d="M638,339.8 L649,348.8" fill="none" stroke="#666" stroke-width="1" />
<path d="M671.5,313.5 L688.0,313.5 L688.0,330.0 L708.0,330.0 L708.0,313.5 L724.0,313.5 L724.0,329.0 L735.5,332.5 L735.5,337.5 L730.0,345.5 L723.0,345.5 L716.0,336.5 L709.5,345.5 L703.5,346.0 L698.0,337.5 L692.5,346.0 L687.0,345.5 L680.0,336.5 L673.0,345.5 L666.0,345.5 L660.5,337.5 L660.5,332.5 L671.5,329.0 Z" fill="#fff" stroke="#000" stroke-width="4.2" stroke-linejoin="miter" stroke-linejoin="round"/>
<line x1="698" y1="330" x2="698" y2="338" stroke="#000" stroke-width="4" />
<path d="M571.6,377.0 L571.6,354.0 L579.5,354.0 L582.0,360.5 L588.6,360.5 L590.6,355.5 L602.4,355.5 L607.0,361.5 L622.7,361.5 L625.4,355.5 L643.7,355.5 L647.0,360.0 L654.5,360.0 L656.0,354.5 L660.2,354.5 L660.2,377.0 Z" fill="#000" stroke="#000" stroke-width="0.8" stroke-linejoin="miter" stroke-linejoin="round"/>
<rect x="577" y="368.2" width="3.2" height="3.6" fill="#888" />
<rect x="584" y="368.2" width="3.2" height="3.6" fill="#aaa" />
<rect x="596" y="368.2" width="3.2" height="3.6" fill="#999" />
<rect x="610" y="368.2" width="3.2" height="3.6" fill="#bbb" />
<rect x="622" y="368.2" width="3.2" height="3.6" fill="#999" />
<rect x="634" y="368.2" width="3.2" height="3.6" fill="#888" />
<rect x="641" y="368.2" width="3.2" height="3.6" fill="#777" />
<rect x="650" y="368.2" width="3.2" height="3.6" fill="#888" />
<path d="M571.6,382.8 L571.6,405.3 L579.5,405.3 L582.0,398.8 L588.6,398.8 L590.6,403.8 L602.4,403.8 L607.0,397.8 L622.7,397.8 L625.4,403.8 L643.7,403.8 L647.0,399.3 L654.5,399.3 L656.0,404.8 L660.2,404.8 L660.2,382.8 Z" fill="#000" stroke="#000" stroke-width="0.8" stroke-linejoin="miter" stroke-linejoin="round"/>
<rect x="577" y="388.0" width="3.2" height="3.6" fill="#888" />
<rect x="584" y="388.0" width="3.2" height="3.6" fill="#aaa" />
<rect x="596" y="388.0" width="3.2" height="3.6" fill="#999" />
<rect x="610" y="388.0" width="3.2" height="3.6" fill="#bbb" />
<rect x="622" y="388.0" width="3.2" height="3.6" fill="#999" />
<rect x="634" y="388.0" width="3.2" height="3.6" fill="#888" />
<rect x="641" y="388.0" width="3.2" height="3.6" fill="#777" />
<rect x="650" y="388.0" width="3.2" height="3.6" fill="#888" />
<rect x="632.5" y="376" width="3" height="8" fill="#000" />
<rect x="610" y="357.5" width="9" height="4" fill="#555" />
<g id="box40">
<rect x="667" y="354.5" width="63" height="35.5" fill="#000" />
<rect x="676.5" y="385" width="14" height="11.5" fill="#000" />
<rect x="706" y="385" width="14" height="11.5" fill="#000" />
<rect x="681" y="383" width="5" height="9" fill="#fff" />
<rect x="709.7" y="383" width="5" height="9" fill="#fff" />
<line x1="671" y1="360" x2="695.5" y2="360" stroke="#888" stroke-width="2.5" />
<line x1="701" y1="360" x2="725.5" y2="360" stroke="#888" stroke-width="2.5" />
<line x1="700.6" y1="363" x2="700.6" y2="385" stroke="#555" stroke-width="1.2" />
<line x1="725" y1="364" x2="725" y2="384" stroke="#555" stroke-width="1.2" stroke-dasharray="3 3"/>
</g>
<rect x="516" y="414" width="113.5" height="20.5" fill="#000" />
<line x1="520" y1="420.2" x2="545" y2="420.2" stroke="#aaa" stroke-width="3" />
<line x1="520" y1="428.2" x2="545" y2="428.2" stroke="#aaa" stroke-width="3" />
<line x1="547" y1="420.2" x2="571.5" y2="420.2" stroke="#aaa" stroke-width="3" />
<line x1="547" y1="428.2" x2="571.5" y2="428.2" stroke="#aaa" stroke-width="3" />
<line x1="574" y1="420.2" x2="598" y2="420.2" stroke="#aaa" stroke-width="3" />
<line x1="574" y1="428.2" x2="598" y2="428.2" stroke="#aaa" stroke-width="3" />
<line x1="600" y1="420.2" x2="627" y2="420.2" stroke="#aaa" stroke-width="3" />
<line x1="600" y1="428.2" x2="627" y2="428.2" stroke="#aaa" stroke-width="3" />
<g transform="translate(324,330)">
<rect x="1.9" y="1.8" width="86.7" height="62.9" fill="#fff" stroke="#000" stroke-width="3.8" rx="12" ry="10.5"/>
<rect x="42.65" y="1" width="5.2" height="64.5" fill="#000" />
<rect x="2" y="31.05" width="86.5" height="4.4" fill="#000" />
<line x1="3" y1="17.3" x2="87.5" y2="17.3" stroke="#000" stroke-width="2" />
<line x1="3" y1="49.2" x2="87.5" y2="49.2" stroke="#000" stroke-width="2" />
<path d="M88.0,9.5 L86.0,9.5 Q79.5,13.700000000000001 70.0,16.400000000000002 L70.0,18.2 Q79.5,20.900000000000002 86.0,25.1 L88.0,25.1 Z" fill="#000" stroke="none" stroke-width="0" />
<path d="M88.0,41.400000000000006 L86.0,41.400000000000006 Q79.5,45.6 70.0,48.300000000000004 L70.0,50.1 Q79.5,52.800000000000004 86.0,57.0 L88.0,57.0 Z" fill="#000" stroke="none" stroke-width="0" />
<path d="M88.0,25.75 L86.0,25.75 Q82.5,30.65 74.5,31.25 L74.5,35.25 Q82.5,35.85 86.0,40.75 L88.0,40.75 Z" fill="#000" stroke="none" stroke-width="0" />
<path d="M88.0,11.0 L85.0,10.5 L75.5,3.5 L75.5,2.0 L88.0,2.0 Z" fill="#000" stroke="none" stroke-width="0" stroke-linejoin="miter" />
<path d="M88.0,55.5 L85.0,56.0 L75.5,63.0 L75.5,64.5 L88.0,64.5 Z" fill="#000" stroke="none" stroke-width="0" stroke-linejoin="miter" />
<path d="M2.5,9.5 L4.5,9.5 Q11.0,13.700000000000001 20.5,16.400000000000002 L20.5,18.2 Q11.0,20.900000000000002 4.5,25.1 L2.5,25.1 Z" fill="#000" stroke="none" stroke-width="0" />
<path d="M2.5,41.400000000000006 L4.5,41.400000000000006 Q11.0,45.6 20.5,48.300000000000004 L20.5,50.1 Q11.0,52.800000000000004 4.5,57.0 L2.5,57.0 Z" fill="#000" stroke="none" stroke-width="0" />
<path d="M2.5,25.75 L4.5,25.75 Q8.0,30.65 16.0,31.25 L16.0,35.25 Q8.0,35.85 4.5,40.75 L2.5,40.75 Z" fill="#000" stroke="none" stroke-width="0" />
<path d="M2.5,11.0 L5.5,10.5 L15.0,3.5 L15.0,2.0 L2.5,2.0 Z" fill="#000" stroke="none" stroke-width="0" stroke-linejoin="miter" />
<path d="M2.5,55.5 L5.5,56.0 L15.0,63.0 L15.0,64.5 L2.5,64.5 Z" fill="#000" stroke="none" stroke-width="0" stroke-linejoin="miter" />
</g>
<g transform="translate(419,330)">
<rect x="1.9" y="1.8" width="86.0" height="61.9" fill="#fff" stroke="#000" stroke-width="3.8" rx="12" ry="10.5"/>
<rect x="42.3" y="1" width="5.2" height="63.5" fill="#000" />
<rect x="2" y="30.55" width="85.8" height="4.4" fill="#000" />
<path d="M87.3,8.5 L85.3,8.5 Q78.8,13.700000000000001 64.8,16.400000000000002 L64.8,18.2 Q78.8,20.900000000000002 85.3,26.1 L87.3,26.1 Z" fill="#000" stroke="none" stroke-width="0" />
<path d="M87.3,39.400000000000006 L85.3,39.400000000000006 Q78.8,44.6 64.8,47.300000000000004 L64.8,49.1 Q78.8,51.800000000000004 85.3,57.0 L87.3,57.0 Z" fill="#000" stroke="none" stroke-width="0" />
<path d="M87.3,25.25 L85.3,25.25 Q81.8,30.15 73.8,30.75 L73.8,34.75 Q81.8,35.35 85.3,40.25 L87.3,40.25 Z" fill="#000" stroke="none" stroke-width="0" />
<path d="M87.3,11.0 L84.3,10.5 L74.8,3.5 L74.8,2.0 L87.3,2.0 Z" fill="#000" stroke="none" stroke-width="0" stroke-linejoin="miter" />
<path d="M87.3,54.5 L84.3,55.0 L74.8,62.0 L74.8,63.5 L87.3,63.5 Z" fill="#000" stroke="none" stroke-width="0" stroke-linejoin="miter" />
<path d="M2.5,8.5 L4.5,8.5 Q11.0,13.700000000000001 25.0,16.400000000000002 L25.0,18.2 Q11.0,20.900000000000002 4.5,26.1 L2.5,26.1 Z" fill="#000" stroke="none" stroke-width="0" />
<path d="M2.5,39.400000000000006 L4.5,39.400000000000006 Q11.0,44.6 25.0,47.300000000000004 L25.0,49.1 Q11.0,51.800000000000004 4.5,57.0 L2.5,57.0 Z" fill="#000" stroke="none" stroke-width="0" />
<path d="M2.5,25.25 L4.5,25.25 Q8.0,30.15 16.0,30.75 L16.0,34.75 Q8.0,35.35 4.5,40.25 L2.5,40.25 Z" fill="#000" stroke="none" stroke-width="0" />
<path d="M2.5,11.0 L5.5,10.5 L15.0,3.5 L15.0,2.0 L2.5,2.0 Z" fill="#000" stroke="none" stroke-width="0" stroke-linejoin="miter" />
<path d="M2.5,54.5 L5.5,55.0 L15.0,62.0 L15.0,63.5 L2.5,63.5 Z" fill="#000" stroke="none" stroke-width="0" stroke-linejoin="miter" />
</g>
<g transform="translate(324,404)">
<rect x="1.9" y="1.8" width="86.7" height="62.9" fill="#fff" stroke="#000" stroke-width="3.8" rx="12" ry="10.5"/>
<rect x="42.65" y="1" width="5.2" height="64.5" fill="#000" />
<rect x="2" y="31.05" width="86.5" height="4.4" fill="#000" />
<line x1="3" y1="17.3" x2="87.5" y2="17.3" stroke="#000" stroke-width="2" />
<line x1="3" y1="49.2" x2="87.5" y2="49.2" stroke="#000" stroke-width="2" />
<path d="M88.0,9.5 L86.0,9.5 Q79.5,13.700000000000001 70.0,16.400000000000002 L70.0,18.2 Q79.5,20.900000000000002 86.0,25.1 L88.0,25.1 Z" fill="#000" stroke="none" stroke-width="0" />
<path d="M88.0,41.400000000000006 L86.0,41.400000000000006 Q79.5,45.6 70.0,48.300000000000004 L70.0,50.1 Q79.5,52.800000000000004 86.0,57.0 L88.0,57.0 Z" fill="#000" stroke="none" stroke-width="0" />
<path d="M88.0,25.75 L86.0,25.75 Q82.5,30.65 74.5,31.25 L74.5,35.25 Q82.5,35.85 86.0,40.75 L88.0,40.75 Z" fill="#000" stroke="none" stroke-width="0" />
<path d="M88.0,11.0 L85.0,10.5 L75.5,3.5 L75.5,2.0 L88.0,2.0 Z" fill="#000" stroke="none" stroke-width="0" stroke-linejoin="miter" />
<path d="M88.0,55.5 L85.0,56.0 L75.5,63.0 L75.5,64.5 L88.0,64.5 Z" fill="#000" stroke="none" stroke-width="0" stroke-linejoin="miter" />
<path d="M2.5,9.5 L4.5,9.5 Q11.0,13.700000000000001 20.5,16.400000000000002 L20.5,18.2 Q11.0,20.900000000000002 4.5,25.1 L2.5,25.1 Z" fill="#000" stroke="none" stroke-width="0" />
<path d="M2.5,41.400000000000006 L4.5,41.400000000000006 Q11.0,45.6 20.5,48.300000000000004 L20.5,50.1 Q11.0,52.800000000000004 4.5,57.0 L2.5,57.0 Z" fill="#000" stroke="none" stroke-width="0" />
<path d="M2.5,25.75 L4.5,25.75 Q8.0,30.65 16.0,31.25 L16.0,35.25 Q8.0,35.85 4.5,40.75 L2.5,40.75 Z" fill="#000" stroke="none" stroke-width="0" />
<path d="M2.5,11.0 L5.5,10.5 L15.0,3.5 L15.0,2.0 L2.5,2.0 Z" fill="#000" stroke="none" stroke-width="0" stroke-linejoin="miter" />
<path d="M2.5,55.5 L5.5,56.0 L15.0,63.0 L15.0,64.5 L2.5,64.5 Z" fill="#000" stroke="none" stroke-width="0" stroke-linejoin="miter" />
</g>
<g transform="translate(419,404)">
<rect x="1.9" y="1.8" width="86.0" height="62.4" fill="#fff" stroke="#000" stroke-width="3.8" rx="12" ry="10.5"/>
<rect x="42.3" y="1" width="5.2" height="64" fill="#000" />
<rect x="2" y="30.8" width="85.8" height="4.4" fill="#000" />
<path d="M87.3,8.5 L85.3,8.5 Q78.8,13.700000000000001 64.8,16.400000000000002 L64.8,18.2 Q78.8,20.900000000000002 85.3,26.1 L87.3,26.1 Z" fill="#000" stroke="none" stroke-width="0" />
<path d="M87.3,39.900000000000006 L85.3,39.900000000000006 Q78.8,45.1 64.8,47.800000000000004 L64.8,49.6 Q78.8,52.300000000000004 85.3,57.5 L87.3,57.5 Z" fill="#000" stroke="none" stroke-width="0" />
<path d="M87.3,25.5 L85.3,25.5 Q81.8,30.4 73.8,31.0 L73.8,35.0 Q81.8,35.6 85.3,40.5 L87.3,40.5 Z" fill="#000" stroke="none" stroke-width="0" />
<path d="M87.3,11.0 L84.3,10.5 L74.8,3.5 L74.8,2.0 L87.3,2.0 Z" fill="#000" stroke="none" stroke-width="0" stroke-linejoin="miter" />
<path d="M87.3,55.0 L84.3,55.5 L74.8,62.5 L74.8,64.0 L87.3,64.0 Z" fill="#000" stroke="none" stroke-width="0" stroke-linejoin="miter" />
<path d="M2.5,8.5 L4.5,8.5 Q11.0,13.700000000000001 25.0,16.400000000000002 L25.0,18.2 Q11.0,20.900000000000002 4.5,26.1 L2.5,26.1 Z" fill="#000" stroke="none" stroke-width="0" />
<path d="M2.5,39.900000000000006 L4.5,39.900000000000006 Q11.0,45.1 25.0,47.800000000000004 L25.0,49.6 Q11.0,52.300000000000004 4.5,57.5 L2.5,57.5 Z" fill="#000" stroke="none" stroke-width="0" />
<path d="M2.5,25.5 L4.5,25.5 Q8.0,30.4 16.0,31.0 L16.0,35.0 Q8.0,35.6 4.5,40.5 L2.5,40.5 Z" fill="#000" stroke="none" stroke-width="0" />
<path d="M2.5,11.0 L5.5,10.5 L15.0,3.5 L15.0,2.0 L2.5,2.0 Z" fill="#000" stroke="none" stroke-width="0" stroke-linejoin="miter" />
<path d="M2.5,55.0 L5.5,55.5 L15.0,62.5 L15.0,64.0 L2.5,64.0 Z" fill="#000" stroke="none" stroke-width="0" stroke-linejoin="miter" />
</g>
<rect x="521.3" y="347" width="13" height="60.5" fill="#000" />
<rect x="513.5" y="361" width="29.5" height="33.5" fill="#000" />
<circle cx="542" cy="378" r="7.2" fill="#000" />
<rect x="519" y="372" width="4" height="4" fill="#333" />
<g id="longstripR">
<rect x="338.3" y="480" width="217" height="16.5" fill="#000" />
<rect x="343.5" y="483.8" width="209" height="9.7" fill="#fff" />
<line x1="352.5" y1="484" x2="352.5" y2="493.5" stroke="#000" stroke-width="1.9" />
<line x1="361.5" y1="484" x2="361.5" y2="493.5" stroke="#000" stroke-width="1.9" />
<line x1="389" y1="484" x2="389" y2="493.5" stroke="#000" stroke-width="1.9" />
<line x1="411.7" y1="484" x2="411.7" y2="493.5" stroke="#000" stroke-width="1.9" />
<line x1="416" y1="484" x2="416" y2="493.5" stroke="#000" stroke-width="1.9" />
<line x1="421.5" y1="484" x2="421.5" y2="493.5" stroke="#000" stroke-width="1.9" />
<line x1="429" y1="484" x2="429" y2="493.5" stroke="#000" stroke-width="1.9" />
<line x1="435" y1="484" x2="435" y2="493.5" stroke="#000" stroke-width="1.9" />
<line x1="442.5" y1="484" x2="442.5" y2="493.5" stroke="#000" stroke-width="1.9" />
<line x1="449" y1="484" x2="449" y2="493.5" stroke="#000" stroke-width="1.9" />
<line x1="455" y1="484" x2="455" y2="493.5" stroke="#000" stroke-width="1.9" />
<line x1="461" y1="484" x2="461" y2="493.5" stroke="#000" stroke-width="1.9" />
<line x1="468" y1="484" x2="468" y2="493.5" stroke="#000" stroke-width="1.9" />
<line x1="476" y1="484" x2="476" y2="493.5" stroke="#000" stroke-width="1.9" />
<line x1="485" y1="484" x2="485" y2="493.5" stroke="#000" stroke-width="1.9" />
<line x1="497" y1="484" x2="497" y2="493.5" stroke="#000" stroke-width="1.9" />
<line x1="508" y1="484" x2="508" y2="493.5" stroke="#000" stroke-width="1.9" />
<line x1="520" y1="484" x2="520" y2="493.5" stroke="#000" stroke-width="1.9" />
<line x1="528" y1="484" x2="528" y2="493.5" stroke="#000" stroke-width="1.9" />
<line x1="534" y1="484" x2="534" y2="493.5" stroke="#000" stroke-width="1.9" />
<line x1="540" y1="484" x2="540" y2="493.5" stroke="#000" stroke-width="1.9" />
<line x1="546" y1="484" x2="546" y2="493.5" stroke="#000" stroke-width="1.9" />
<line x1="389" y1="484" x2="389" y2="493.5" stroke="#000" stroke-width="1.8" />
<rect x="376" y="488" width="4" height="4.5" fill="#000" />
<rect x="398" y="488" width="4" height="4.5" fill="#000" />
<rect x="480" y="488" width="3.5" height="4.5" fill="#000" />
<rect x="490" y="488" width="3" height="4.5" fill="#000" />
<rect x="502" y="488" width="3.5" height="4.5" fill="#000" />
<rect x="513" y="488" width="3" height="4.5" fill="#000" />
<rect x="364" y="487" width="6" height="3" fill="#888" />
<rect x="405" y="489" width="6" height="3" fill="#888" />
</g>
<rect x="343.5" y="503.3" width="83.3" height="17.3" fill="#000" />
<line x1="349" y1="508.4" x2="424" y2="508.4" stroke="#999" stroke-width="2" />
<line x1="349" y1="514.6" x2="424" y2="514.6" stroke="#fff" stroke-width="2" />
<path d="M438,509.5 L457,502.5" fill="none" stroke="#000" stroke-width="6" />
<path d="M442,511.0 L456,506.5" fill="none" stroke="#000" stroke-width="5" />
<path d="M454.5,511.5 C457,502.5 461,500.3 468.0,500.3 C475,500.3 479,502.5 481.5,511.5" fill="none" stroke="#000" stroke-width="10" />
<path d="M454.5,511.5 C457,502.5 461,500.3 468.0,500.3 C475,500.3 479,502.5 481.5,511.5" fill="none" stroke="#fff" stroke-width="3" />
<path d="M443,508.3 L454,504.2" fill="none" stroke="#ddd" stroke-width="1.2" />
<path d="M520.5,511.5 C523,502.5 527,500.3 535.0,500.3 C543,500.3 547,502.5 549.5,511.5" fill="none" stroke="#000" stroke-width="10" />
<path d="M520.5,511.5 C523,502.5 527,500.3 535.0,500.3 C543,500.3 547,502.5 549.5,511.5" fill="none" stroke="#fff" stroke-width="3" />
<path d="M554,483 L586,499 L598,503.5" fill="none" stroke="#000" stroke-width="9" stroke-linejoin="round"/>
<path d="M556,484.5 L586,499.3 L597,503.2" fill="none" stroke="#ccc" stroke-width="1.3" />
<g id="box40b">
<rect x="523" y="439" width="41.5" height="36" fill="#000" />
<rect x="538.3" y="444.3" width="3.4" height="3.4" fill="#fff" />
<rect x="547.3" y="444.8" width="3.4" height="3.4" fill="#ddd" />
<rect x="543.8" y="452.3" width="3.4" height="3.4" fill="#fff" />
<rect x="538.3" y="463.3" width="3.4" height="3.4" fill="#ddd" />
<rect x="549.3" y="463.3" width="3.4" height="3.4" fill="#ccc" />
<rect x="532.3" y="444.3" width="3.4" height="3.4" fill="#666" />
<rect x="532.3" y="452.8" width="3.4" height="3.4" fill="#555" />
<rect x="538.3" y="456.3" width="3.4" height="3.4" fill="#666" />
<rect x="549.3" y="456.3" width="3.4" height="3.4" fill="#777" />
<rect x="532.3" y="460.3" width="3.4" height="3.4" fill="#555" />
<rect x="543.3" y="468.3" width="3.4" height="3.4" fill="#444" />
<line x1="558" y1="443" x2="558" y2="470" stroke="#ccc" stroke-width="2.2" stroke-dasharray="5 2"/>
</g>
<rect x="570" y="439.5" width="40.5" height="41.3" fill="#000" />
<rect x="609" y="446.0" width="12" height="28.3" fill="#000" />
<rect x="575" y="445.5" width="30" height="29.3" fill="#fff" />
<rect x="605" y="444.5" width="3" height="31.3" fill="#ddd" />
<rect x="608.5" y="449.5" width="8.5" height="2.8" fill="#fff" />
<rect x="608.5" y="467.8" width="8.5" height="2.8" fill="#fff" />
<rect x="580.0" y="450.0" width="3" height="3" fill="#444" />
<rect x="580.0" y="458.65" width="3" height="3" fill="#444" />
<rect x="580.0" y="467.3" width="3" height="3" fill="#444" />
<rect x="588.5" y="450.0" width="3" height="3" fill="#444" />
<rect x="588.5" y="458.65" width="3" height="3" fill="#444" />
<rect x="588.5" y="467.3" width="3" height="3" fill="#444" />
<rect x="597.0" y="450.0" width="3" height="3" fill="#444" />
<rect x="597.0" y="458.65" width="3" height="3" fill="#444" />
<rect x="597.0" y="467.3" width="3" height="3" fill="#444" />
<rect x="624" y="471.5" width="38.5" height="40.5" fill="#000" />
<rect x="661" y="478.0" width="12" height="27.5" fill="#000" />
<rect x="629" y="477.5" width="28" height="28.5" fill="#fff" />
<rect x="657" y="476.5" width="3" height="30.5" fill="#ddd" />
<rect x="660.5" y="481.5" width="8.5" height="2.8" fill="#fff" />
<rect x="660.5" y="499.0" width="8.5" height="2.8" fill="#fff" />
<rect x="634.0" y="482.0" width="3" height="3" fill="#444" />
<rect x="634.0" y="490.25" width="3" height="3" fill="#444" />
<rect x="634.0" y="498.5" width="3" height="3" fill="#444" />
<rect x="641.5" y="482.0" width="3" height="3" fill="#444" />
<rect x="641.5" y="490.25" width="3" height="3" fill="#444" />
<rect x="641.5" y="498.5" width="3" height="3" fill="#444" />
<rect x="649.0" y="482.0" width="3" height="3" fill="#444" />
<rect x="649.0" y="490.25" width="3" height="3" fill="#444" />
<rect x="649.0" y="498.5" width="3" height="3" fill="#444" />
<rect x="677" y="471.5" width="40.5" height="40" fill="#000" />
<rect x="716" y="478.0" width="12" height="27" fill="#000" />
<rect x="682" y="477.5" width="30" height="28" fill="#fff" />
<rect x="712" y="476.5" width="3" height="30" fill="#ddd" />
<rect x="715.5" y="481.5" width="8.5" height="2.8" fill="#fff" />
<rect x="715.5" y="498.5" width="8.5" height="2.8" fill="#fff" />
<rect x="687.0" y="482.0" width="3" height="3" fill="#444" />
<rect x="687.0" y="490.0" width="3" height="3" fill="#444" />
<rect x="687.0" y="498.0" width="3" height="3" fill="#444" />
<rect x="695.5" y="482.0" width="3" height="3" fill="#444" />
<rect x="695.5" y="490.0" width="3" height="3" fill="#444" />
<rect x="695.5" y="498.0" width="3" height="3" fill="#444" />
<rect x="704.0" y="482.0" width="3" height="3" fill="#444" />
<rect x="704.0" y="490.0" width="3" height="3" fill="#444" />
<rect x="704.0" y="498.0" width="3" height="3" fill="#444" />
<rect x="633" y="420" width="40.5" height="42.5" fill="#000" />
<rect x="639" y="412" width="27" height="10" fill="#000" />
<rect x="639" y="429" width="29" height="28" fill="#fff" />
<rect x="638" y="425.5" width="31" height="2.2" fill="#999" />
<rect x="642" y="415" width="3" height="10" fill="#fff" />
<rect x="660" y="415" width="3" height="10" fill="#fff" />
<rect x="643.0" y="433.0" width="3" height="3" fill="#444" />
<rect x="643.0" y="441.75" width="3" height="3" fill="#444" />
<rect x="643.0" y="450.5" width="3" height="3" fill="#444" />
<rect x="651.75" y="433.0" width="3" height="3" fill="#444" />
<rect x="651.75" y="441.75" width="3" height="3" fill="#444" />
<rect x="651.75" y="450.5" width="3" height="3" fill="#444" />
<rect x="660.5" y="433.0" width="3" height="3" fill="#444" />
<rect x="660.5" y="441.75" width="3" height="3" fill="#444" />
<rect x="660.5" y="450.5" width="3" height="3" fill="#444" />
<g id="box42">
<rect x="677" y="409" width="50.5" height="56" fill="#000" />
<rect x="701" y="415" width="8" height="11" fill="#fff" />
<rect x="709" y="424" width="12.5" height="8" fill="#fff" />
<rect x="685" y="414" width="3" height="6.5" fill="#ddd" />
<rect x="685" y="435.5" width="9" height="3.5" fill="#ddd" />
<rect x="700" y="435.5" width="7" height="3.5" fill="#888" />
<rect x="710" y="445" width="4.5" height="2" fill="#eee" />
<rect x="676" y="451" width="3.5" height="3" fill="#fff" />
<rect x="726" y="451" width="3" height="3" fill="#fff" />
<rect x="692" y="414" width="2.5" height="3" fill="#666" />
<rect x="715" y="415" width="4" height="4" fill="#444" />
<rect x="688" y="425" width="3" height="3" fill="#444" />
<rect x="711" y="437" width="3" height="4" fill="#555" />
</g>
<rect x="732.5" y="351" width="18.5" height="82.5" fill="#000" />
<line x1="739" y1="354" x2="739" y2="430" stroke="#fff" stroke-width="2" />
<line x1="745.3" y1="354" x2="745.3" y2="430" stroke="#999" stroke-width="1.8" />
<g transform="translate(0,326.7)">
<rect x="757.5" y="8" width="26.5" height="39" fill="#000" rx="2" />
<rect x="758" y="0" width="10.5" height="12" fill="#000" rx="3" />
<rect x="773.5" y="0" width="10.5" height="12" fill="#000" rx="3" />
<rect x="758" y="43" width="10.5" height="11.5" fill="#000" rx="3" />
<rect x="773.5" y="43" width="10.5" height="11.5" fill="#000" rx="3" />
<rect x="761" y="13" width="19.5" height="29" fill="#000" stroke="#ddd" stroke-width="1.8" />
<rect x="761.5" y="6.5" width="2.2" height="2.5" fill="#ddd" />
<rect x="761.5" y="47" width="2.2" height="2.5" fill="#ddd" />
<rect x="776.5" y="6.5" width="2.2" height="2.5" fill="#ddd" />
<rect x="776.5" y="47" width="2.2" height="2.5" fill="#ddd" />
</g>
<g transform="translate(0,389)">
<rect x="757.5" y="8" width="26.5" height="39" fill="#000" rx="2" />
<rect x="758" y="0" width="10.5" height="12" fill="#000" rx="3" />
<rect x="773.5" y="0" width="10.5" height="12" fill="#000" rx="3" />
<rect x="758" y="43" width="10.5" height="11.5" fill="#000" rx="3" />
<rect x="773.5" y="43" width="10.5" height="11.5" fill="#000" rx="3" />
<rect x="761" y="13" width="19.5" height="29" fill="#000" stroke="#ddd" stroke-width="1.8" />
<rect x="761.5" y="6.5" width="2.2" height="2.5" fill="#ddd" />
<rect x="761.5" y="47" width="2.2" height="2.5" fill="#ddd" />
<rect x="776.5" y="6.5" width="2.2" height="2.5" fill="#ddd" />
<rect x="776.5" y="47" width="2.2" height="2.5" fill="#ddd" />
</g>
<rect x="767.5" y="380" width="6" height="12" fill="#000" />
<rect x="769.3" y="382" width="2.4" height="8" fill="#ccc" />
<rect x="733" y="462.5" width="10.5" height="48" fill="#000" rx="2" />
<rect x="742.5" y="448" width="12.5" height="62.5" fill="#000" rx="2" />
<line x1="738.7" y1="470" x2="738.7" y2="505" stroke="#ddd" stroke-width="1.8" />
<line x1="748.5" y1="455" x2="748.5" y2="505" stroke="#ddd" stroke-width="1.8" />
<rect x="761.7" y="457.5" width="12.5" height="30.5" fill="#000" />
<g id="boxLL">
<rect x="17" y="474.8" width="47" height="46.5" fill="#000" />
<rect x="12.6" y="486" width="5" height="5.5" fill="#000" />
<rect x="39.7" y="480.2" width="18" height="1.9" fill="#fff" />
<rect x="30.5" y="480" width="3" height="13.7" fill="#666" />
<rect x="23.4" y="490.5" width="10" height="3.2" fill="#777" />
<rect x="45" y="487.8" width="4" height="6.5" fill="#ccc" />
<rect x="24.5" y="501" width="2.5" height="4.5" fill="#eee" />
<rect x="28.3" y="498.5" width="2.5" height="3.5" fill="#999" />
<rect x="33" y="501.5" width="3.3" height="3.3" fill="#fff" />
<rect x="47.5" y="497.5" width="3.3" height="3.3" fill="#eee" />
<rect x="55" y="498.5" width="2.6" height="2.6" fill="#aaa" />
<rect x="39.7" y="502.5" width="3" height="6.5" fill="#777" />
<rect x="43.2" y="502" width="3" height="7" fill="#888" />
<rect x="49.4" y="502" width="3" height="7" fill="#555" />
<rect x="55.5" y="510" width="3" height="6" fill="#ddd" />
<rect x="25.5" y="511.5" width="3" height="3" fill="#444" />
<rect x="49" y="511" width="3" height="3" fill="#444" />
</g>
<g id="p22d">
<rect x="248.6" y="336.8" width="5.2" height="4.6" fill="#fff" />
<path d="M238.5,342.5 L215.0,342.5 L207.5,351.0 L202.5,362.0 L200.5,374.5 L238.5,374.5 Z" fill="#eee" stroke="none" stroke-width="0" stroke-linejoin="miter" />
<path d="M266.5,343.0 L288.0,343.0 L296.0,351.0 L301.0,362.0 L303.0,374.5 L266.5,374.5 Z" fill="#eee" stroke="none" stroke-width="0" stroke-linejoin="miter" />
<rect x="203.5" y="360" width="5.0" height="5.199999999999989" fill="#000" />
<rect x="203.5" y="367.7" width="5.0" height="4.100000000000023" fill="#000" />
<rect x="211.5" y="344.8" width="6.0" height="6.199999999999989" fill="#000" />
<rect x="211.5" y="353.5" width="6.0" height="4.199999999999989" fill="#000" />
<rect x="211.5" y="360" width="6.0" height="5.199999999999989" fill="#000" />
<rect x="211.5" y="367.7" width="6.0" height="4.100000000000023" fill="#000" />
<rect x="220.5" y="344.8" width="5.5" height="6.199999999999989" fill="#000" />
<rect x="220.5" y="353.5" width="5.5" height="4.199999999999989" fill="#000" />
<rect x="220.5" y="360" width="5.5" height="5.199999999999989" fill="#000" />
<rect x="220.5" y="367.7" width="5.5" height="4.100000000000023" fill="#000" />
<rect x="229" y="344.8" width="6.5" height="6.199999999999989" fill="#000" />
<rect x="229" y="353.5" width="6.5" height="4.199999999999989" fill="#000" />
<rect x="229" y="360" width="6.5" height="5.199999999999989" fill="#000" />
<rect x="229" y="367.7" width="6.5" height="4.100000000000023" fill="#000" />
<rect x="269" y="344.8" width="6.5" height="6.199999999999989" fill="#000" />
<rect x="269" y="353.5" width="6.5" height="4.199999999999989" fill="#000" />
<rect x="269" y="360" width="6.5" height="5.199999999999989" fill="#000" />
<rect x="269" y="367.7" width="6.5" height="4.100000000000023" fill="#000" />
<rect x="279" y="344.8" width="6" height="6.199999999999989" fill="#000" />
<rect x="279" y="353.5" width="6" height="4.199999999999989" fill="#000" />
<rect x="279" y="360" width="6" height="5.199999999999989" fill="#000" />
<rect x="279" y="367.7" width="6" height="4.100000000000023" fill="#000" />
<rect x="288" y="344.8" width="3" height="6.199999999999989" fill="#000" />
<rect x="288" y="353.5" width="5.800000000000011" height="4.199999999999989" fill="#000" />
<rect x="288" y="360" width="5.800000000000011" height="5.199999999999989" fill="#000" />
<rect x="288" y="367.7" width="5.800000000000011" height="4.100000000000023" fill="#000" />
<rect x="296.5" y="360" width="4.5" height="5.199999999999989" fill="#000" />
<rect x="296.5" y="367.7" width="4.5" height="4.100000000000023" fill="#000" />
<rect x="259" y="375.5" width="6" height="2.2" fill="#777" />
</g>
<text x="203" y="86.5" font-size="6.2" font-weight="bold" fill="#1a1a1a" >17</text>
<text x="237" y="177.5" font-size="6.2" font-weight="bold" fill="#1a1a1a" >18</text>
<text x="175.5" y="187.5" font-size="6.2" font-weight="bold" fill="#1a1a1a" >14</text>
<text x="192" y="201.5" font-size="6.2" font-weight="bold" fill="#1a1a1a" >15</text>
<text x="263" y="190.5" font-size="6.2" font-weight="bold" fill="#1a1a1a" >14</text>
<text x="276" y="203" font-size="6.2" font-weight="bold" fill="#1a1a1a" >15</text>
<text x="166" y="202.5" font-size="6.2" font-weight="bold" fill="#1a1a1a" >13</text>
<text x="153" y="292.5" font-size="6.2" font-weight="bold" fill="#1a1a1a" >12</text>
<text x="269" y="310" font-size="6.2" font-weight="bold" fill="#1a1a1a" >21</text>
<text x="277" y="331.5" font-size="6.2" font-weight="bold" fill="#1a1a1a" >22</text>
<text x="214.5" y="402" font-size="6.2" font-weight="bold" fill="#1a1a1a" >23</text>
<text x="273" y="398.5" font-size="6.2" font-weight="bold" fill="#1a1a1a" >24</text>
<text x="160" y="390" font-size="6.2" font-weight="bold" fill="#1a1a1a" >10</text>
<text x="173.5" y="390" font-size="6.2" font-weight="bold" fill="#1a1a1a" >11</text>
<text x="303" y="480.5" font-size="6.2" font-weight="bold" fill="#1a1a1a" >26</text>
<text x="322" y="474" font-size="6.2" font-weight="bold" fill="#1a1a1a" >27</text>
<text x="417" y="404" font-size="6.2" font-weight="bold" fill="#1a1a1a" >28</text>
<text x="518" y="344.5" font-size="6.2" font-weight="bold" fill="#1a1a1a" >29</text>
<text x="283" y="242.5" font-size="6.2" font-weight="bold" fill="#1a1a1a" >30</text>
<text x="410.5" y="227.5" font-size="6.2" font-weight="bold" fill="#1a1a1a" >30</text>
<text x="448.5" y="322" font-size="6.2" font-weight="bold" fill="#1a1a1a" >31</text>
<text x="389.5" y="266" font-size="6.2" font-weight="bold" fill="#1a1a1a" >32</text>
<text x="386" y="295.5" font-size="6.2" font-weight="bold" fill="#1a1a1a" >33</text>
<text x="535" y="338.5" font-size="6.2" font-weight="bold" fill="#1a1a1a" >34</text>
<text x="497.5" y="288.5" font-size="6.2" font-weight="bold" fill="#1a1a1a" >27</text>
<text x="550" y="411.5" font-size="6.2" font-weight="bold" fill="#1a1a1a" >35</text>
<text x="598" y="305.5" font-size="6.2" font-weight="bold" fill="#1a1a1a" >37</text>
<text x="693.5" y="325" font-size="6.2" font-weight="bold" fill="#1a1a1a" >38</text>
<text x="511.5" y="472.5" font-size="6.2" font-weight="bold" fill="#1a1a1a" >40</text>
<text x="618" y="475" font-size="6.2" font-weight="bold" fill="#1a1a1a" >41</text>
<text x="625" y="443" font-size="6.2" font-weight="bold" fill="#1a1a1a" >41</text>
<text x="728" y="447.5" font-size="6.2" font-weight="bold" fill="#1a1a1a" >42</text>
<text x="745" y="446.5" font-size="6.2" font-weight="bold" fill="#1a1a1a" >48</text>
<text x="733" y="520.5" font-size="6.2" font-weight="bold" fill="#1a1a1a" >47</text>
<text x="776" y="474.5" font-size="6.2" font-weight="bold" fill="#1a1a1a" >51</text>
<text x="744.5" y="323.5" font-size="6.2" font-weight="bold" fill="#1a1a1a" >44</text>
<text x="764" y="245" font-size="6.2" font-weight="bold" fill="#1a1a1a" >57</text>
<text x="746" y="88" font-size="6.2" font-weight="bold" fill="#1a1a1a" >56</text>
<text x="763" y="121" font-size="6.2" font-weight="bold" fill="#1a1a1a" >48</text>
<text x="552" y="91.5" font-size="6.2" font-weight="bold" fill="#1a1a1a" >55</text>
<text x="604.5" y="91.5" font-size="6.2" font-weight="bold" fill="#1a1a1a" >55</text>
<text x="656.5" y="91.5" font-size="6.2" font-weight="bold" fill="#1a1a1a" >55</text>
<text x="708" y="91.5" font-size="6.2" font-weight="bold" fill="#1a1a1a" >55</text>
<text x="497" y="90.5" font-size="6.2" font-weight="bold" fill="#1a1a1a" >54</text>
<text x="500" y="199.5" font-size="6.2" font-weight="bold" fill="#1a1a1a" >53</text>
<text x="324" y="141" font-size="6.2" font-weight="bold" fill="#1a1a1a" >20</text>
<text x="609" y="409.5" font-size="6.2" font-weight="bold" fill="#1a1a1a" >43</text>
<text x="688" y="401" font-size="6.2" font-weight="bold" fill="#1a1a1a" >39</text>
<text x="8.5" y="253.5" font-size="6" font-weight="bold" fill="#1a1a1a" >2</text>
<text x="147.5" y="355" font-size="6" font-weight="bold" fill="#1a1a1a" >4</text>
<text x="102.5" y="465.5" font-size="6" font-weight="bold" fill="#1a1a1a" >3</text>
<text x="105.5" y="476" font-size="6" font-weight="bold" fill="#1a1a1a" >7</text>
<text x="71" y="515.5" font-size="6" font-weight="bold" fill="#1a1a1a" >8</text>
<text x="143" y="469" font-size="6" font-weight="bold" fill="#1a1a1a" >9</text>
<text x="9" y="412.5" font-size="6" font-weight="bold" fill="#1a1a1a" >6</text>
<text x="429" y="519" font-size="6" font-weight="bold" fill="#1a1a1a" >8</text>
<text transform="translate(142.5,268) rotate(90)" font-size="6.5" font-weight="bold" fill="#1a1a1a">16</text>
</g>
</svg>
</body></html>
